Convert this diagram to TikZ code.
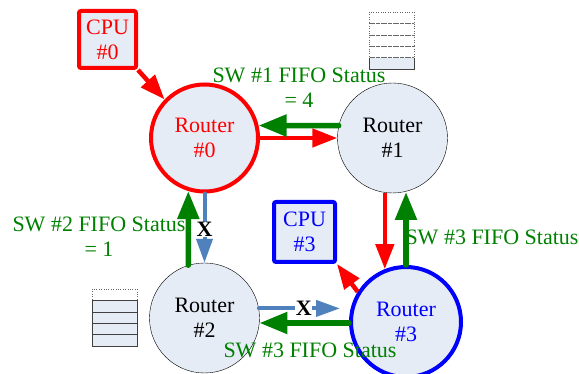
\documentclass[tikz,border=0pt]{standalone}
\usepackage{fontspec}
\setmainfont{Liberation Serif}
\usetikzlibrary{arrows.meta}

\definecolor{cellfill}{RGB}{230,236,246}
\definecolor{okgreen}{RGB}{0,128,0}
\definecolor{linkblue}{RGB}{79,129,189}

\tikzset{
  router/.style = {circle, draw = black, fill = cellfill, minimum size = 110pt, inner sep = 0pt, align = center},
  cpu/.style = {draw, fill = cellfill, line width = 4pt, rounded corners = 2pt, minimum width = 57pt, minimum height = 57pt, inner sep = 0pt, align = center},
  dataarrow/.style = {draw = red, line width = 4.5pt, -{Triangle[width = 18pt, length = 25pt]}},
  statusarrow/.style = {draw = okgreen, line width = 5.5pt, line cap = round, -{Triangle[width = 21pt, length = 28pt]}},
  blockarrow/.style = {draw = linkblue, line width = 4pt, line cap = round, -{Triangle[width = 16pt, length = 24pt]}},
  status/.style = {text = okgreen, align = center},
  blocked/.style = {font = \fontsize{22}{25}\selectfont\bfseries, fill = white, inner sep = 0.5pt}
}

\begin{document}
\begin{tikzpicture}[x = 1pt, y = -1pt, font = \fontsize{22}{25}\selectfont]
\useasboundingbox (0,0) rectangle (579,374);
\pgfmathsetmacro\slot{11.4};
% fifo of router #1
\foreach \i in {0,...,4} \draw [draw = black!60, dotted] (369,12+\i*\slot) rectangle (414,12+\i*\slot+\slot);
\fill [cellfill] (369,12+4*\slot) rectangle (414,69);
\draw [draw = black!75] (369,12+4*\slot) -- (369,69) -- (414,69) -- (414,12+4*\slot);
% fifo of router #2
\draw [draw = black!60, dotted] (92,289) rectangle (137,289+\slot);
\foreach \i in {1,...,4} \draw [fill = cellfill, draw = black!75] (92,289+\i*\slot) rectangle (137,289+\i*\slot+\slot);
% routers and cpus
\node [router, draw = red, line width = 4pt, text = red, minimum size = 107pt] (r0) at (204.5,138) {Router\\\#0};
\node [router] (r1) at (392.5,138) {Router\\\#1};
\node [router] (r2) at (204.5,318) {Router\\\#2};
\node [router, draw = blue, line width = 4pt, text = blue, minimum size = 110pt] (r3) at (406,322) {Router\\\#3};
\node [cpu, draw = red, text = red] (cpu0) at (107.5,39.5) {CPU\\\#0};
\node [cpu, draw = blue, text = blue, minimum width = 61pt, minimum height = 60pt] (cpu3) at (304.5,232) {CPU\\\#3};
% data
\draw [dataarrow] (cpu0.south east) -- (r0.136);
\draw [dataarrow] (r0.east) -- (r1.west);
\draw [dataarrow] (r1.262) -- (r1.262 |- r3.112);
\draw [dataarrow] (r3.148) -- (cpu3.south east);
% blocked links
\draw [blockarrow] (r0.south) -- (r2.north) node [blocked, pos = 0.52, text = black] (x02) {X};
\draw [blockarrow, shorten > = 9pt] (r2.10) -- (r2.10 -| r3.west) node [blocked, pos = 0.5, text = black] (x23) {X};
% fifo status
\draw [statusarrow] (r1.167) -- (r0.13);
\draw [statusarrow] (r2.107) -- (r0.253);
\draw [statusarrow] (r3.north) -- (r3.north |- r1.282);
\draw [statusarrow] (r3.181) -- (r3.181 -| r2.355);
\node [status] (st1) at (299,88) {SW \#1 FIFO Status\\= 4};
\node [status] (st2) at (99,237) {SW \#2 FIFO Status\\= 1};
\node [status] (st3) at (492,237) {SW \#3 FIFO Status};
\node [status] (st32) at (310,350) {SW \#3 FIFO Status};
\end{tikzpicture}
\end{document}
